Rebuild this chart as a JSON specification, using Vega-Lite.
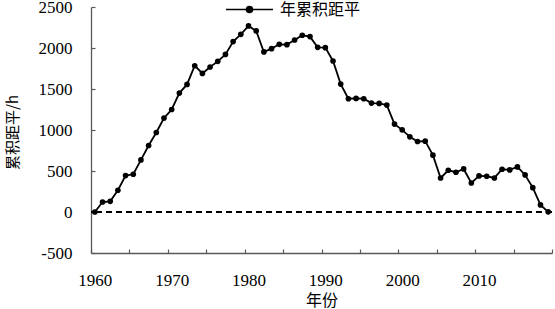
{
  "$schema": "https://vega.github.io/schema/vega-lite/v6.json",
  "autosize": {"type": "none"},
  "width": 461,
  "height": 246,
  "padding": {"left": 91, "top": 7, "right": 3, "bottom": 56},
  "background": "white",
  "config": {"view": {"stroke": null}, "font": "Liberation Serif"},
  "data": {
    "values": [
      {"year": 1960, "value": 0, "series": "年累积距平"},
      {"year": 1961, "value": 122, "series": "年累积距平"},
      {"year": 1962, "value": 130, "series": "年累积距平"},
      {"year": 1963, "value": 265, "series": "年累积距平"},
      {"year": 1964, "value": 444, "series": "年累积距平"},
      {"year": 1965, "value": 460, "series": "年累积距平"},
      {"year": 1966, "value": 635, "series": "年累积距平"},
      {"year": 1967, "value": 811, "series": "年累积距平"},
      {"year": 1968, "value": 970, "series": "年累积距平"},
      {"year": 1969, "value": 1145, "series": "年累积距平"},
      {"year": 1970, "value": 1250, "series": "年累积距平"},
      {"year": 1971, "value": 1450, "series": "年累积距平"},
      {"year": 1972, "value": 1556, "series": "年累积距平"},
      {"year": 1973, "value": 1784, "series": "年累积距平"},
      {"year": 1974, "value": 1690, "series": "年累积距平"},
      {"year": 1975, "value": 1768, "series": "年累积距平"},
      {"year": 1976, "value": 1837, "series": "年累积距平"},
      {"year": 1977, "value": 1922, "series": "年累积距平"},
      {"year": 1978, "value": 2078, "series": "年累积距平"},
      {"year": 1979, "value": 2167, "series": "年累积距平"},
      {"year": 1980, "value": 2269, "series": "年累积距平"},
      {"year": 1981, "value": 2208, "series": "年累积距平"},
      {"year": 1982, "value": 1952, "series": "年累积距平"},
      {"year": 1983, "value": 1992, "series": "年累积距平"},
      {"year": 1984, "value": 2045, "series": "年累积距平"},
      {"year": 1985, "value": 2041, "series": "年累积距平"},
      {"year": 1986, "value": 2098, "series": "年累积距平"},
      {"year": 1987, "value": 2155, "series": "年累积距平"},
      {"year": 1988, "value": 2139, "series": "年累积距平"},
      {"year": 1989, "value": 2008, "series": "年累积距平"},
      {"year": 1990, "value": 2004, "series": "年累积距平"},
      {"year": 1991, "value": 1842, "series": "年累积距平"},
      {"year": 1992, "value": 1560, "series": "年累积距平"},
      {"year": 1993, "value": 1381, "series": "年累积距平"},
      {"year": 1994, "value": 1385, "series": "年累积距平"},
      {"year": 1995, "value": 1381, "series": "年累积距平"},
      {"year": 1996, "value": 1328, "series": "年累积距平"},
      {"year": 1997, "value": 1324, "series": "年累积距平"},
      {"year": 1998, "value": 1304, "series": "年累积距平"},
      {"year": 1999, "value": 1072, "series": "年累积距平"},
      {"year": 2000, "value": 1002, "series": "年累积距平"},
      {"year": 2001, "value": 917, "series": "年累积距平"},
      {"year": 2002, "value": 860, "series": "年累积距平"},
      {"year": 2003, "value": 864, "series": "年累积距平"},
      {"year": 2004, "value": 693, "series": "年累积距平"},
      {"year": 2005, "value": 415, "series": "年累积距平"},
      {"year": 2006, "value": 509, "series": "年累积距平"},
      {"year": 2007, "value": 485, "series": "年累积距平"},
      {"year": 2008, "value": 525, "series": "年累积距平"},
      {"year": 2009, "value": 354, "series": "年累积距平"},
      {"year": 2010, "value": 440, "series": "年累积距平"},
      {"year": 2011, "value": 436, "series": "年累积距平"},
      {"year": 2012, "value": 415, "series": "年累积距平"},
      {"year": 2013, "value": 521, "series": "年累积距平"},
      {"year": 2014, "value": 513, "series": "年累积距平"},
      {"year": 2015, "value": 550, "series": "年累积距平"},
      {"year": 2016, "value": 452, "series": "年累积距平"},
      {"year": 2017, "value": 297, "series": "年累积距平"},
      {"year": 2018, "value": 86, "series": "年累积距平"},
      {"year": 2019, "value": 2, "series": "年累积距平"}
    ]
  },
  "layer": [
    {
      "mark": {"type": "rule", "strokeDash": [6, 4], "strokeWidth": 1.5, "color": "black"},
      "encoding": {"y": {"datum": 0, "type": "quantitative"}}
    },
    {
      "mark": {"type": "line", "strokeWidth": 1.8, "color": "black", "point": {"filled": true, "size": 32, "color": "black"}},
      "encoding": {
        "x": {
          "field": "year",
          "type": "quantitative",
          "scale": {"domain": [1959.5, 2019.5], "nice": false, "zero": false},
          "axis": {
            "values": [1959.5, 1964.5, 1969.5, 1974.5, 1979.5, 1984.5, 1989.5, 1994.5, 1999.5, 2004.5, 2009.5, 2014.5, 2019.5],
            "labelExpr": "((datum.value + 0.5) % 10 == 0 && datum.value < 2015) ? toString(datum.value + 0.5) : ''",
            "labelOffset": 3.84,
            "labelFlush": false,
            "labelOverlap": false,
            "tickSize": -4,
            "labelPadding": 23,
            "labelFontSize": 17,
            "labelColor": "black",
            "labelFont": "Liberation Serif",
            "domainColor": "#595959",
            "domainWidth": 1.3,
            "tickColor": "#595959",
            "tickWidth": 1.2,
            "grid": false,
            "title": "年份",
            "titleFont": "Noto Sans CJK SC",
            "titleFontSize": 16,
            "titleFontWeight": "normal",
            "titleColor": "black",
            "titleX": 230.5,
            "titleY": 47,
            "titleAlign": "center",
            "titleBaseline": "middle"
          }
        },
        "y": {
          "field": "value",
          "type": "quantitative",
          "scale": {"domain": [-500, 2500], "nice": false, "zero": false},
          "axis": {
            "values": [-500, 0, 500, 1000, 1500, 2000, 2500],
            "labelExpr": "toString(datum.value)",
            "tickSize": -4,
            "labelPadding": 23,
            "labelFontSize": 17,
            "labelColor": "black",
            "labelFont": "Liberation Serif",
            "domainColor": "#595959",
            "domainWidth": 1.3,
            "tickColor": "#595959",
            "tickWidth": 1.2,
            "grid": false,
            "title": "累积距平/h",
            "titleFont": "Noto Sans CJK SC",
            "titleFontSize": 15,
            "titleFontWeight": "normal",
            "titleColor": "black",
            "titleAngle": -90,
            "titleX": -79,
            "titleY": 125,
            "titleAlign": "center",
            "titleBaseline": "middle"
          }
        },
        "color": {
          "field": "series",
          "type": "nominal",
          "scale": {"range": ["black"]},
          "legend": {
            "orient": "none",
            "legendX": 134,
            "legendY": -22,
            "title": null,
            "padding": 0,
            "symbolType": "M-1,0L1,0M-0.13,0A0.13,0.13,0,1,1,0.13,0A0.13,0.13,0,1,1,-0.13,0",
            "symbolSize": 2209,
            "symbolStrokeWidth": 1.5,
            "symbolFillColor": "black",
            "symbolStrokeColor": "black",
            "labelFont": "Noto Sans CJK SC",
            "labelFontSize": 16,
            "labelColor": "black",
            "labelOffset": 6
          }
        }
      }
    }
  ]
}
